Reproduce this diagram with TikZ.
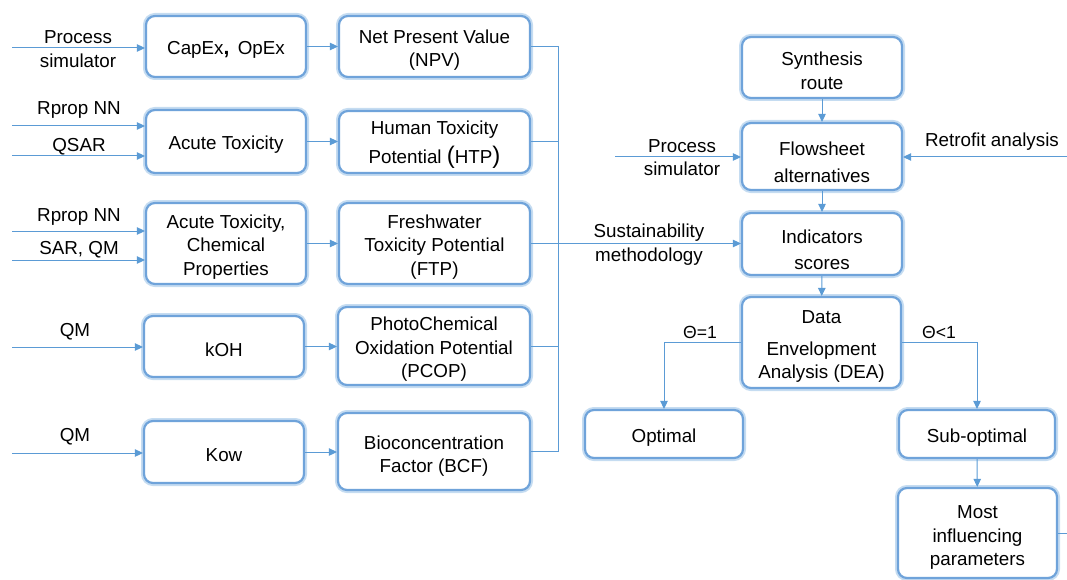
\documentclass[tikz,border=0pt]{standalone}
\usepackage{fontspec}
\setmainfont{Liberation Sans}
\usetikzlibrary{arrows.meta}

\definecolor{linkblue}{HTML}{5B9BD5}
\definecolor{rimblue}{HTML}{6FA3DA}
\definecolor{haloblue}{HTML}{C5DCF1}

\tikzset{
  stagebox/.style={
    rectangle, rounded corners=9pt, fill=white, draw=rimblue, line width=2.2pt,
    preaction={draw=haloblue, line width=6pt}, inner sep=0pt},
  boxtext/.style={inner sep=0pt, align=center, text=black,
    font=\fontsize{18.8}{23.5}\selectfont, yshift=-3.5pt},
  tag/.style={inner sep=0pt, align=center, text=black,
    font=\fontsize{18.8}{23.5}\selectfont,
    execute at begin node={\rule{0pt}{16pt}}},
  thetatag/.style={inner sep=0pt, text=black, font=\fontsize{17.6}{22}\selectfont},
  link/.style={draw=linkblue, line width=1pt},
  flow/.style={link, -{Triangle[length=8pt,width=7.5pt]}},
}

\newcommand{\bigparen}[1]{{\fontsize{24}{24}\selectfont #1}}

\begin{document}
\begin{tikzpicture}[x=1pt, y=-1pt]
\useasboundingbox (0,0) rectangle (1067,580);

% ---------- left chain: inputs -> properties -> indicators ----------
\node[stagebox, minimum width=160pt, minimum height=61pt,
  label={[boxtext]center:{CapEx{\bfseries\fontsize{21}{21}\selectfont ,}\, OpEx}}] (capex) at (226,46.5) {};
\node[stagebox, minimum width=160pt, minimum height=63pt,
  label={[boxtext]center:{Acute Toxicity}}] (acute) at (226,141.5) {};
\node[stagebox, minimum width=160pt, minimum height=81pt,
  label={[boxtext]center:{Acute Toxicity,\\Chemical\\Properties}}] (acchem) at (226,243.5) {};
\node[stagebox, minimum width=160pt, minimum height=61pt,
  label={[boxtext]center:{kOH}}] (koh) at (224,346.5) {};
\node[stagebox, minimum width=160pt, minimum height=62pt,
  label={[boxtext]center:{Kow}}] (kow) at (224,452) {};

\node[stagebox, minimum width=191pt, minimum height=61pt,
  label={[boxtext]center:{Net Present Value\\(NPV)}}] (npv) at (434.5,46.5) {};
\node[stagebox, minimum width=191pt, minimum height=62pt,
  label={[boxtext, yshift=1pt]center:{Human Toxicity\\[5pt]Potential \bigparen{(}HTP\bigparen{)}}}] (htp) at (434.5,142) {};
\node[stagebox, minimum width=191pt, minimum height=81pt,
  label={[boxtext]center:{Freshwater\\Toxicity Potential\\(FTP)}}] (ftp) at (434.5,243.5) {};
\node[stagebox, minimum width=192pt, minimum height=78pt,
  label={[boxtext]center:{PhotoChemical\\Oxidation Potential\\(PCOP)}}] (pcop) at (434,346) {};
\node[stagebox, minimum width=192pt, minimum height=77pt,
  label={[boxtext, yshift=-1pt]center:{Bioconcentration\\Factor (BCF)}}] (bcf) at (434,451.5) {};

% input labels
\node[tag] (lps)   at (78,49)  {Process\\simulator};
\node[tag] (lrp1)  at (79,108) {Rprop NN};
\node[tag] (lqsar) at (79,145) {QSAR};
\node[tag] (lrp2)  at (79,215) {Rprop NN};
\node[tag] (lsar)  at (79,248) {SAR, QM};
\node[tag] (lqm1)  at (75,330) {QM};
\node[tag] (lqm2)  at (75,435) {QM};

% input lines
\coordinate (in1)  at (12,48);
\coordinate (in2a) at (12,126);
\coordinate (in2b) at (12,156);
\coordinate (in3a) at (12,231);
\coordinate (in3b) at (12,260);
\coordinate (in4)  at (12,347);
\coordinate (in5)  at (12,453);
\draw[flow] (in1)  -- (in1 -| capex.west);
\draw[flow] (in2a) -- (in2a -| acute.west);
\draw[flow] (in2b) -- (in2b -| acute.west);
\draw[flow] (in3a) -- (in3a -| acchem.west);
\draw[flow] (in3b) -- (in3b -| acchem.west);
\draw[flow] (in4)  -- (in4 -| koh.west);
\draw[flow] (in5)  -- (in5 -| kow.west);

% property -> indicator
\draw[flow] (capex.east)  -- (capex.east -| npv.west);
\draw[flow] (acute.east)  -- (acute.east -| htp.west);
\draw[flow] (acchem.east) -- (acchem.east -| ftp.west);
\draw[flow] (koh.east)    -- (koh.east -| pcop.west);
\draw[flow] (kow.east)    -- (kow.east -| bcf.west);

% collecting bus
\coordinate (bustop) at (558,46.5);
\coordinate (busbot) at (558,451.5);
\draw[link] (npv.east) -- (bustop) -- (busbot) -- (bcf.east);
\draw[link] (htp.east)  -- (htp.east -| bustop);
\draw[link] (pcop.east) -- (pcop.east -| bustop);

% ---------- right chain ----------
\node[stagebox, minimum width=160pt, minimum height=61pt,
  label={[boxtext]center:{Synthesis\\route}}] (syn) at (822,67.5) {};
\node[stagebox, minimum width=160pt, minimum height=67pt,
  label={[boxtext, yshift=-2.5pt]center:{Flowsheet\\[3pt]alternatives}}] (flw) at (822,156.5) {};
\node[stagebox, minimum width=160pt, minimum height=62pt,
  label={[boxtext, yshift=-2.5pt]center:{Indicators\\[3pt]scores}}] (ind) at (822,244) {};
\node[stagebox, minimum width=159pt, minimum height=91pt,
  label={[boxtext, yshift=-0.5pt]center:{Data\\[8pt]Envelopment\\Analysis (DEA)}}] (dea) at (821.5,342.5) {};
\node[stagebox, minimum width=158pt, minimum height=48pt,
  label={[boxtext]center:{Optimal}}] (opt) at (664,434) {};
\node[stagebox, minimum width=156pt, minimum height=48pt,
  label={[boxtext]center:{Sub-optimal}}] (sub) at (977,434) {};
\node[stagebox, minimum width=159pt, minimum height=90pt,
  label={[boxtext, yshift=-1pt]center:{Most\\influencing\\parameters}}] (most) at (977.5,533) {};

\node[tag] (lps2)  at (682,157.5) {Process\\simulator};
\node[tag] (lret)  at (992,140)   {Retrofit analysis};
\node[tag] (lsus)  at (649,244.5) {Sustainability\\methodology};
\node[thetatag] (leq) at (700,332) {Θ=1};
\node[thetatag] (llt) at (939,332) {Θ<1};

\coordinate (psin)  at (615,157);
\coordinate (retin) at (1067,157);
\coordinate (mostout) at (1067,533);

\draw[flow] (syn) -- (flw);
\draw[flow] (flw) -- (ind);
\draw[flow] (ind) -- (dea);
\draw[flow] (psin) -- (psin -| flw.west);
\draw[flow] (retin) -- (retin -| flw.east);
\draw[flow] (ftp.east) -- (ftp.east -| ind.west);
\draw[flow] (dea.west) -| (opt.north);
\draw[flow] (dea.east) -| (sub.north);
\draw[flow] (sub) -- (most);
\draw[link] (most.east) -- (mostout);

\end{tikzpicture}
\end{document}
